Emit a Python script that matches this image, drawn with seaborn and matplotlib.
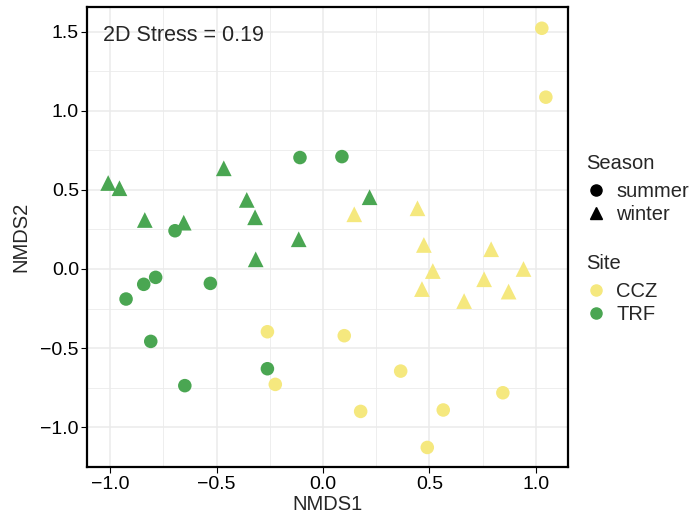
import matplotlib
matplotlib.use("Agg")
import matplotlib.pyplot as plt
from matplotlib.lines import Line2D
import seaborn as sns
import pandas as pd

# NMDS scores
ccz_summer_x = [1.028, 1.047, -0.261, -0.224, 0.100, 0.177, 0.365, 0.565, 0.490, 0.845]
ccz_summer_y = [1.523, 1.087, -0.397, -0.730, -0.422, -0.901, -0.646, -0.892, -1.129, -0.783]
ccz_winter_x = [0.147, 0.444, 0.474, 0.790, 0.516, 0.942, 0.757, 0.465, 0.872, 0.663]
ccz_winter_y = [0.346, 0.384, 0.152, 0.125, -0.013, 0.000, -0.065, -0.127, -0.143, -0.203]
trf_summer_x = [-0.108, 0.089, -0.695, -0.786, -0.842, -0.925, -0.529, -0.809, -0.261, -0.649]
trf_summer_y = [0.705, 0.711, 0.242, -0.053, -0.097, -0.190, -0.091, -0.458, -0.631, -0.738]
trf_winter_x = [-1.009, -0.956, -0.837, -0.654, -0.466, -0.358, -0.319, -0.114, -0.316, 0.219]
trf_winter_y = [0.544, 0.511, 0.310, 0.293, 0.637, 0.437, 0.327, 0.188, 0.061, 0.454]

sites = ["CCZ", "TRF"]
seasons = ["summer", "winter"]
site_colors = {"CCZ": "#F5E87E", "TRF": "#4AA652"}
season_markers = {"summer": "o", "winter": "^"}
stress = 0.19

frames = []
for site, season, xs, ys in [
    ("CCZ", "summer", ccz_summer_x, ccz_summer_y),
    ("CCZ", "winter", ccz_winter_x, ccz_winter_y),
    ("TRF", "summer", trf_summer_x, trf_summer_y),
    ("TRF", "winter", trf_winter_x, trf_winter_y),
]:
    frames.append(pd.DataFrame({"NMDS1": xs, "NMDS2": ys, "Site": site, "Season": season}))
df = pd.concat(frames, ignore_index=True)

sns.set_style("white")
plt.rcParams["font.family"] = ["Liberation Sans", "DejaVu Sans"]

fig = plt.figure(figsize=(6.93, 5.17), dpi=100)
ax = fig.add_axes([0.126, 0.096, 0.693, 0.890])

grid_col = "#EBEBEB"
for v in [-1.0, -0.75, -0.5, -0.25, 0.0, 0.25, 0.5, 0.75, 1.0]:
    ax.axvline(v, color=grid_col, lw=1.1 if v * 2 == int(v * 2) else 0.6, zorder=0)
for v in [-1.0, -0.75, -0.5, -0.25, 0.0, 0.25, 0.5, 0.75, 1.0, 1.25, 1.5]:
    ax.axhline(v, color=grid_col, lw=1.1 if v * 2 == int(v * 2) else 0.6, zorder=0)

# triangles are drawn a bit bigger than the circles, as in ggplot shape 17
for season, size in [("summer", 95), ("winter", 128)]:
    sub = df[df["Season"] == season]
    sns.scatterplot(data=sub, x="NMDS1", y="NMDS2", hue="Site", hue_order=sites,
                    palette=site_colors, marker=season_markers[season], s=size,
                    linewidth=0, legend=False, ax=ax, zorder=3)

ax.set_xlim(-1.107, 1.149)
ax.set_ylim(-1.255, 1.656)
ax.set_xticks([-1.0, -0.5, 0.0, 0.5, 1.0])
ax.set_yticks([-1.0, -0.5, 0.0, 0.5, 1.0, 1.5])
ax.tick_params(axis="both", labelsize=14, colors="black", length=4, width=0.8,
               direction="out", bottom=True, left=True, pad=2)
for s in ax.spines.values():
    s.set_color("black")
    s.set_linewidth(1.6)
ax.set_xlabel("NMDS1", fontsize=14.5, labelpad=2)
ax.set_ylabel("NMDS2", fontsize=14.5, labelpad=7)

ax.text(-1.035, 1.48, f"2D Stress = {stress}", fontsize=15.5, ha="left", va="center")

season_handles = [Line2D([], [], marker=season_markers[s], color="black", linestyle="",
                         markersize=8 if s == "summer" else 9) for s in seasons]
site_handles = [Line2D([], [], marker="o", color=site_colors[s], linestyle="", markersize=8)
                for s in sites]

leg_kw = dict(loc="upper left", frameon=False, fontsize=14.5, title_fontsize=14.5,
              handletextpad=0.5, labelspacing=0.2, alignment="left",
              handlelength=1.0, borderpad=0)
leg1 = fig.legend(season_handles, seasons, title="Season", bbox_to_anchor=(0.831, 0.7215), **leg_kw)
leg2 = fig.legend(site_handles, sites, title="Site", bbox_to_anchor=(0.831, 0.528), **leg_kw)
# a little more room under the legend titles, like ggplot
for leg in (leg1, leg2):
    leg._legend_box.sep = 0.2 * 14.5 + 3.6

fig.savefig("out.png", dpi=100, facecolor="white")
